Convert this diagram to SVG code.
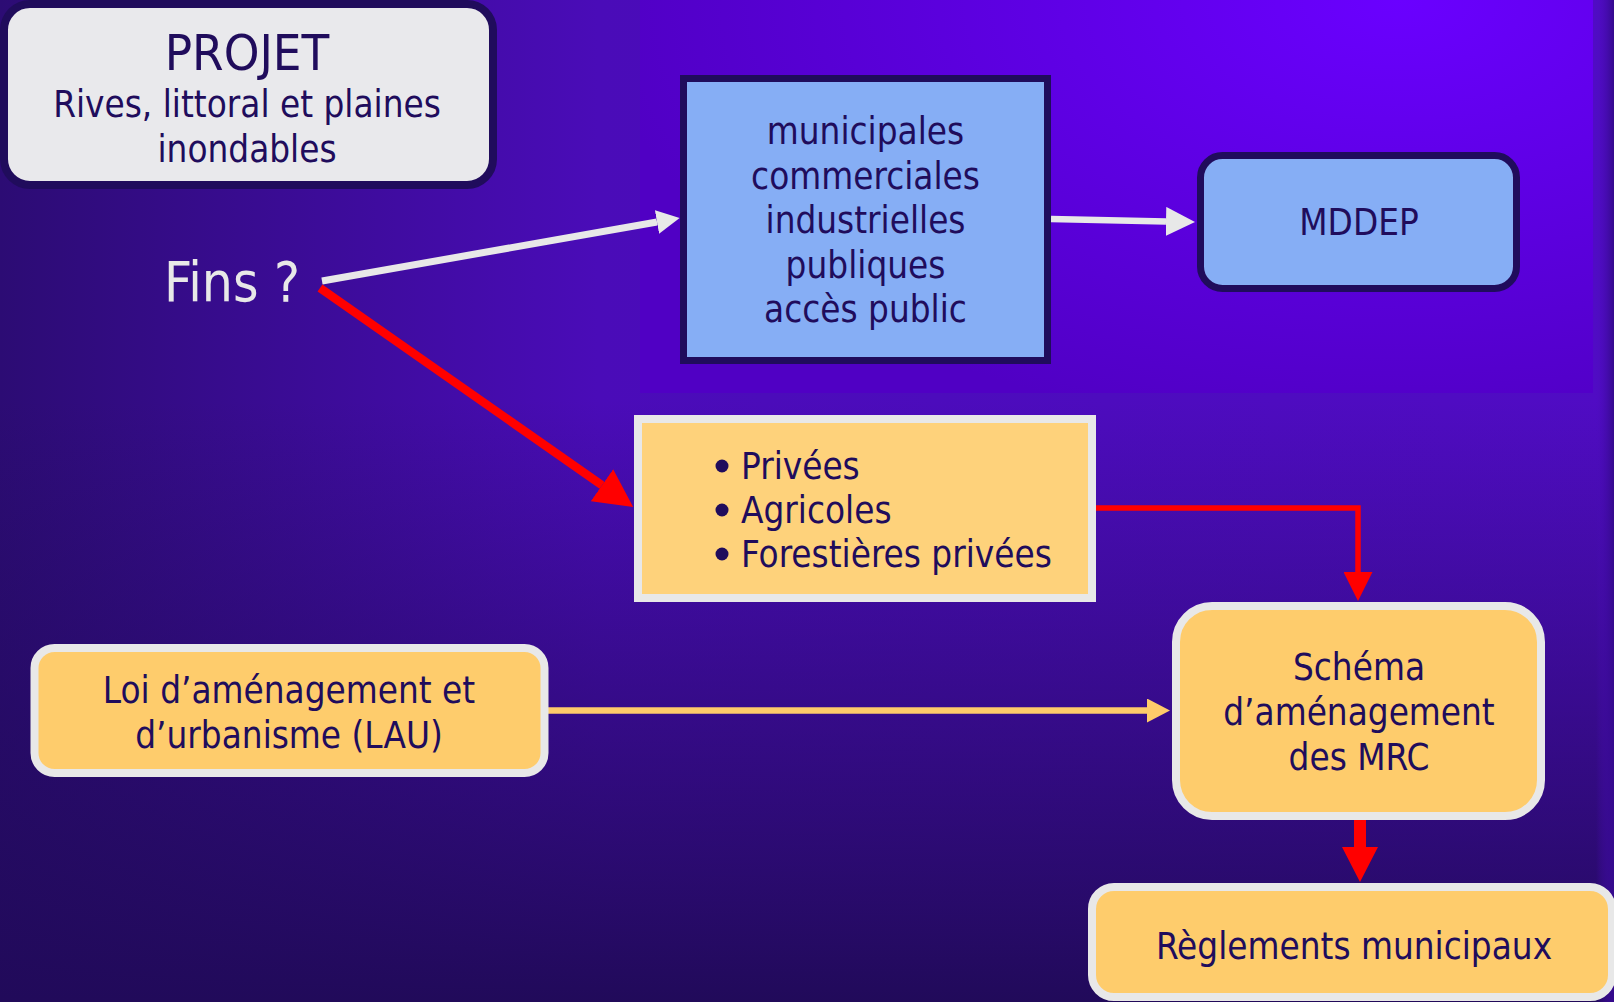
<svg xmlns="http://www.w3.org/2000/svg" width="1614" height="1002" viewBox="0 0 1614 1002">
  <defs>
    <linearGradient id="bgH" x1="0" y1="0" x2="1" y2="0">
      <stop offset="0" stop-color="#2c0c74"/>
      <stop offset="0.37" stop-color="#4a0cb8"/>
      <stop offset="1" stop-color="#500cc4"/>
    </linearGradient>
    <linearGradient id="bgV" x1="0" y1="0" x2="0" y2="1">
      <stop offset="0" stop-color="#210a5a" stop-opacity="0"/>
      <stop offset="0.4" stop-color="#210a5a" stop-opacity="0"/>
      <stop offset="1" stop-color="#210a5a" stop-opacity="1"/>
    </linearGradient>
    <radialGradient id="panelG" gradientUnits="userSpaceOnUse" cx="1400" cy="0" r="800" gradientTransform="translate(1400 0) scale(1 0.55) translate(-1400 0)">
      <stop offset="0" stop-color="#6a00ff"/>
      <stop offset="1" stop-color="#5000c4"/>
    </radialGradient>
    <linearGradient id="edgeG" x1="0" y1="0" x2="1" y2="0">
      <stop offset="0" stop-color="#4c0cbc" stop-opacity="0"/>
      <stop offset="1" stop-color="#34098c" stop-opacity="1"/>
    </linearGradient>
    <marker id="mWhiteS" markerUnits="userSpaceOnUse" markerWidth="23" markerHeight="24" refX="0" refY="12" orient="auto" viewBox="0 0 23 24">
      <path d="M0,0 L23,12 L0,24 Z" fill="#e8e8e8"/>
    </marker>
    <marker id="mWhiteL" markerUnits="userSpaceOnUse" markerWidth="29" markerHeight="29" refX="0" refY="14.5" orient="auto" viewBox="0 0 29 29">
      <path d="M0,0 L29,14.5 L0,29 Z" fill="#e8e8e8"/>
    </marker>
    <marker id="mRedL" markerUnits="userSpaceOnUse" markerWidth="38" markerHeight="39" refX="0" refY="19.5" orient="auto" viewBox="0 0 38 39">
      <path d="M0,0 L38,19.5 L0,39 Z" fill="#ff0000"/>
    </marker>
    <marker id="mRedS" markerUnits="userSpaceOnUse" markerWidth="29" markerHeight="29" refX="0" refY="14.5" orient="auto" viewBox="0 0 29 29">
      <path d="M0,0 L29,14.5 L0,29 Z" fill="#ff0000"/>
    </marker>
    <marker id="mYellow" markerUnits="userSpaceOnUse" markerWidth="23" markerHeight="24" refX="0" refY="12" orient="auto" viewBox="0 0 23 24">
      <path d="M0,0 L23,12 L0,24 Z" fill="#fecb6a"/>
    </marker>
  </defs>
  <style>
    text { font-family: "DejaVu Sans Condensed", "DejaVu Sans", sans-serif; font-stretch: condensed; fill: #200c5c; font-size: 36.5px; }
    .c { text-anchor: middle; }
    .dark { stroke: #200c5c; }
    .light { stroke: #e8e8e8; stroke-width: 8; }
    .blue { fill: #86aef5; stroke-width: 7; }
    .yel { fill: #fecc6c; }
    .yel2 { fill: #fed27b; }
    .wline { fill: none; stroke: #e8e8e8; }
    .rline { fill: none; stroke: #ff0000; }
  </style>

  <!-- background -->
  <rect x="0" y="0" width="1614" height="1002" fill="url(#bgH)"/>
  <rect x="0" y="0" width="1614" height="1002" fill="url(#bgV)"/>
  <rect x="640" y="0" width="953" height="393" fill="url(#panelG)"/>
  <rect x="1596" y="0" width="18" height="1002" fill="url(#edgeG)"/>

  <!-- connectors -->
  <g id="connectors">
    <line class="wline" x1="322" y1="281" x2="657" y2="222" stroke-width="7" marker-end="url(#mWhiteS)"/>
    <line class="rline" x1="320" y1="288" x2="602" y2="485.2" stroke-width="8.5" marker-end="url(#mRedL)"/>
    <line class="wline" x1="1051" y1="219" x2="1166" y2="221.4" stroke-width="6.5" marker-end="url(#mWhiteL)"/>
    <path class="rline" d="M1093,508 H1358 V572" stroke-width="5.5" marker-end="url(#mRedS)"/>
    <line x1="548" y1="710.5" x2="1147" y2="710.5" stroke="#fecb6a" stroke-width="6.5" marker-end="url(#mYellow)"/>
    <polygon points="1354,820 1366,820 1366,847 1378,847 1360,882 1342,847 1354,847" fill="#ff0000"/>
  </g>

  <!-- nodes -->
  <g id="projet">
    <rect x="4" y="4" width="489" height="181" rx="26" fill="#e9e9ec" class="dark" stroke-width="8"/>
    <text class="c" x="247" y="70" style="font-size:50.5px">PROJET</text>
    <text class="c" x="247" y="117">Rives, littoral et plaines</text>
    <text class="c" x="247" y="162">inondables</text>
  </g>

  <g id="fins">
    <text x="164" y="301" style="font-size:54.5px;fill:#e8e8e8">Fins ?</text>
  </g>

  <g id="publiques">
    <rect x="683.5" y="78.5" width="364" height="282" class="blue dark"/>
    <text class="c" x="865.5" y="144">municipales</text>
    <text class="c" x="865.5" y="188.5">commerciales</text>
    <text class="c" x="865.5" y="233">industrielles</text>
    <text class="c" x="865.5" y="277.5">publiques</text>
    <text class="c" x="865.5" y="322">accès public</text>
  </g>

  <g id="mddep">
    <rect x="1200.5" y="155.5" width="316" height="133" rx="22" class="blue dark"/>
    <text class="c" x="1359" y="235">MDDEP</text>
  </g>

  <g id="privees">
    <rect x="638" y="419" width="454" height="179" class="yel2 light"/>
    <circle cx="722" cy="466" r="6.5" fill="#200c5c"/>
    <circle cx="722" cy="510" r="6.5" fill="#200c5c"/>
    <circle cx="722" cy="554" r="6.5" fill="#200c5c"/>
    <text x="741" y="479">Privées</text>
    <text x="741" y="523">Agricoles</text>
    <text x="741" y="567">Forestières privées</text>
  </g>

  <g id="lau">
    <rect x="34.5" y="648" width="510" height="125" rx="20" class="yel light"/>
    <text class="c" x="289" y="703">Loi d’aménagement et</text>
    <text class="c" x="289" y="748">d’urbanisme (LAU)</text>
  </g>

  <g id="schema">
    <rect x="1176" y="606" width="365" height="210" rx="36" class="yel light"/>
    <text class="c" x="1359" y="680">Schéma</text>
    <text class="c" x="1359" y="725">d’aménagement</text>
    <text class="c" x="1359" y="770">des MRC</text>
  </g>

  <g id="reglements">
    <rect x="1092" y="887" width="520" height="110" rx="22" class="yel light"/>
    <text class="c" x="1354" y="959">Règlements municipaux</text>
  </g>
</svg>
